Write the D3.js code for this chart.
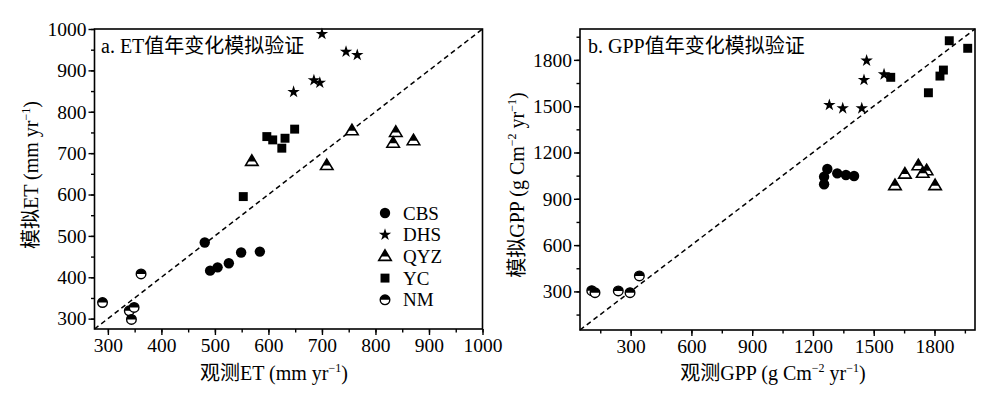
<!DOCTYPE html>
<html><head><meta charset="utf-8">
<script src="https://cdn.jsdelivr.net/npm/d3@7/dist/d3.min.js"></script>
<style>body{margin:0;background:#fff}svg{display:block}</style>
</head><body>
<svg id="c" width="989" height="395"></svg>
<script>
// ---------- data ----------
const seriesNames = ["CBS","DHS","QYZ","YC","NM"];
// Panel a: ET (obs, sim)
const etCBS = [[481,484],[491,416],[505,424],[526,434],[549,460],[584,462]];
const etDHS = [[700,988],[745,945],[766,937],[685,876],[696,870],[647,848]];
const etQYZ = [[569,680],[756,754],[709,670],[838,750],[833,724],[871,730]];
const etYC  = [[597,740],[608,732],[631,736],[625,712],[649,758],[553,595]];
const etNM  = [[290,339],[362,408],[340,319],[349,327],[344,298]];
// Panel b: GPP (obs, sim)
const gppCBS = [[1271,1093],[1255,1043],[1255,994],[1320,1065],[1363,1054],[1403,1048]];
const gppDHS = [[1465,1795],[1452,1670],[1551,1706],[1281,1508],[1347,1486],[1441,1486]];
const gppQYZ = [[1720,1114],[1761,1082],[1742,1065],[1654,1060],[1605,985],[1803,985]];
const gppYC  = [[1873,1924],[1964,1875],[1584,1687],[1844,1734],[1827,1695],[1770,1587]];
const gppNM  = [[108,305],[124,292],[239,303],[297,292],[343,400]];
// axes
const etDomain = [275,1000];
const etTicks = [300,400,500,600,700,800,900,1000];
const gppDomain = [50,2000];
const gppTicks = [300,600,900,1200,1500,1800];

const svg = d3.select("#c");
const SERIF = "'Liberation Serif','Times New Roman',serif";
const CJK = "'Liberation Serif','Noto Sans CJK SC',serif";

function marker(g, type, x, y){
  const m = g.append("g").attr("transform",`translate(${x},${y})`);
  if(type==="CBS"){
    m.append("circle").attr("r",5.2).attr("fill","#000");
  } else if(type==="DHS"){
    m.append("path").attr("d",d3.symbol(d3.symbolStar,48)()).attr("fill","#000");
  } else if(type==="YC"){
    m.append("path").attr("d",d3.symbol(d3.symbolSquare,80)()).attr("fill","#000");
  } else if(type==="QYZ"){
    const h=10.5, w=12.5, top=-h*0.62, bot=h*0.38;
    m.append("path").attr("d",`M0,${top}L${w/2},${bot}L${-w/2},${bot}Z`)
      .attr("fill","#fff").attr("stroke","#000").attr("stroke-width",1.6).attr("stroke-linejoin","miter");
    const k=0.62;
    m.append("path").attr("d",`M0,${top}L${w/2*k},${top+h*k}L${-w/2*k},${top+h*k}Z`).attr("fill","#000");
  } else if(type==="NM"){
    const r=4.8;
    m.append("circle").attr("r",r).attr("fill","#fff").attr("stroke","#000").attr("stroke-width",1.4);
    m.append("path").attr("d",`M${-r},0A${r},${r} 0 0 1 ${r},0Z`).attr("fill","#000");
  }
}

function panel(opt){
  const {L,R,T,B,domain,ticks,minorStep,sets,title,titleX,titleY} = opt;
  const x = d3.scaleLinear().domain(domain).range([L,R]);
  const y = d3.scaleLinear().domain(domain).range([B,T]);
  const g = svg.append("g");
  const minor = d3.range(Math.ceil(domain[0]/minorStep)*minorStep, domain[1]+0.1, minorStep);
  const xa = d3.axisBottom(x).tickValues(minor).tickSize(3.5).tickFormat("");
  const ya = d3.axisLeft(y).tickValues(minor).tickSize(3.5).tickFormat("");
  g.append("g").attr("transform",`translate(0,${B})`).call(xa);
  g.append("g").attr("transform",`translate(${L},0)`).call(ya);
  const fmt = d3.format("d");
  const xA = d3.axisBottom(x).tickValues(ticks).tickSize(6).tickPadding(3).tickFormat(fmt);
  const yA = d3.axisLeft(y).tickValues(ticks).tickSize(6).tickPadding(2).tickFormat(fmt);
  g.append("g").attr("transform",`translate(0,${B})`).call(xA);
  g.append("g").attr("transform",`translate(${L},0)`).call(yA);
  g.selectAll(".domain").remove();
  g.selectAll(".tick line").attr("stroke","#000").attr("stroke-width",1.4);
  g.selectAll(".tick text").attr("font-family",SERIF).attr("font-size",19.5).attr("fill","#000");
  g.append("rect").attr("x",L).attr("y",T).attr("width",R-L).attr("height",B-T)
    .attr("fill","none").attr("stroke","#000").attr("stroke-width",1.6);
  g.append("line").attr("x1",x(domain[0])).attr("y1",y(domain[0]))
    .attr("x2",x(domain[1])).attr("y2",y(domain[1]))
    .attr("stroke","#000").attr("stroke-width",1.5).attr("stroke-dasharray","5,3.5");
  seriesNames.forEach((nm,i)=>{
    sets[i].forEach(d=>marker(g,nm,x(d[0]),y(d[1])));
  });
  g.append("text").attr("x",titleX).attr("y",titleY)
    .attr("font-family",CJK).attr("font-size",20).attr("fill","#000").text(title);
  return {x,y,g};
}

panel({L:94.5,R:482.5,T:29,B:329,domain:etDomain,ticks:etTicks,minorStep:50,
  sets:[etCBS,etDHS,etQYZ,etYC,etNM],title:"a. ET值年变化模拟验证",titleX:101,titleY:53});
panel({L:580,R:975,T:29,B:330,domain:gppDomain,ticks:gppTicks,minorStep:150,
  sets:[gppCBS,gppDHS,gppQYZ,gppYC,gppNM],title:"b. GPP值年变化模拟验证",titleX:588,titleY:53});

// legend (panel a)
seriesNames.forEach((nm,i)=>{
  const yy = 213 + i*21.7;
  marker(svg,nm,385,yy);
  svg.append("text").attr("x",403).attr("y",yy+6.5).attr("font-family",SERIF)
    .attr("font-size",19).attr("fill","#000").text(nm);
});

function title(x,y,rot,parts){
  const t = svg.append("text").attr("font-family",CJK).attr("font-size",20).attr("fill","#000")
    .attr("text-anchor","middle")
    .attr("transform",`translate(${x},${y})${rot?" rotate(-90)":""}`);
  parts.forEach(p=>{
    const s = t.append("tspan").text(p.t);
    if(p.sup){ s.attr("font-size",12).attr("dy",-8); }
    if(p.down){ s.attr("dy",8); }
  });
}
title(274,380,false,[{t:"观测ET (mm yr"},{t:"−1",sup:true},{t:")",down:true}]);
title(38,175,true,[{t:"模拟ET (mm yr"},{t:"−1",sup:true},{t:")",down:true}]);
title(773,380,false,[{t:"观测GPP (g Cm"},{t:"−2",sup:true},{t:" yr",down:true},{t:"−1",sup:true},{t:")",down:true}]);
title(524,185,true,[{t:"模拟GPP (g Cm"},{t:"−2",sup:true},{t:" yr",down:true},{t:"−1",sup:true},{t:")",down:true}]);
</script>
</body></html>
